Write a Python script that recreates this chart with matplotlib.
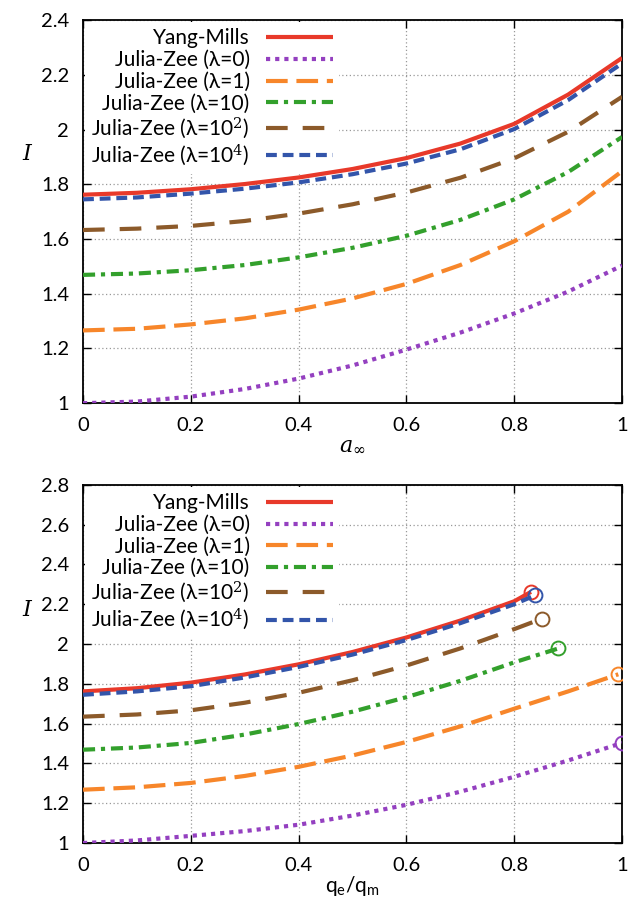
import matplotlib
matplotlib.use('Agg')
import matplotlib.pyplot as plt
from matplotlib.ticker import FuncFormatter

plt.rcParams['font.family'] = ['Lato', 'DejaVu Sans']
plt.rcParams['mathtext.fontset'] = 'dejavuserif'

# labels / styles of the six curves
labels = ['Yang-Mills', 'Julia-Zee (λ=0)', 'Julia-Zee (λ=1)', 'Julia-Zee (λ=10)',
          'Julia-Zee (λ=10$^2$)', 'Julia-Zee (λ=10$^4$)']
colors = ['#e8392a', '#9440c0', '#f7862a', '#33a02c', '#8c5a2a', '#3355aa']
dashes = [None, (1.0, 1.2), (5.2, 2.1), (2.9, 1.4, 1.0, 1.4), (5.2, 3.6), (2.6, 1.4)]

# top panel: I vs a_inf
a_inf = [0.0, 0.1, 0.2, 0.3, 0.4, 0.5, 0.6, 0.7, 0.8, 0.9, 1.0]
top_ym = [1.762, 1.769, 1.782, 1.801, 1.825, 1.856, 1.896, 1.949, 2.021, 2.128, 2.262]
top_jz0 = [1.000, 1.006, 1.024, 1.052, 1.090, 1.138, 1.196, 1.258, 1.328, 1.408, 1.503]
top_jz1 = [1.266, 1.272, 1.288, 1.310, 1.342, 1.383, 1.436, 1.505, 1.592, 1.700, 1.848]
top_jz10 = [1.469, 1.474, 1.486, 1.505, 1.533, 1.568, 1.612, 1.670, 1.745, 1.845, 1.973]
top_jz100 = [1.633, 1.638, 1.648, 1.666, 1.693, 1.727, 1.770, 1.824, 1.895, 1.992, 2.120]
top_jz1e4 = [1.745, 1.752, 1.766, 1.784, 1.807, 1.837, 1.876, 1.928, 2.002, 2.108, 2.242]

# bottom panel: I vs q_e/q_m (curves end at the circles)
q_ym = [0.0, 0.1, 0.2, 0.3, 0.4, 0.5, 0.6, 0.7, 0.8, 0.831]
bot_ym = [1.762, 1.778, 1.806, 1.847, 1.898, 1.960, 2.033, 2.118, 2.215, 2.262]
q_jz0 = [0.0, 0.1, 0.2, 0.3, 0.4, 0.5, 0.6, 0.7, 0.8, 0.9, 1.0]
bot_jz0 = [1.000, 1.013, 1.036, 1.060, 1.092, 1.138, 1.192, 1.258, 1.333, 1.415, 1.503]
q_jz1 = [0.0, 0.1, 0.2, 0.3, 0.4, 0.5, 0.6, 0.7, 0.8, 0.9, 0.993]
bot_jz1 = [1.268, 1.280, 1.302, 1.337, 1.383, 1.440, 1.508, 1.586, 1.675, 1.762, 1.848]
q_jz10 = [0.0, 0.1, 0.2, 0.3, 0.4, 0.5, 0.6, 0.7, 0.8, 0.882]
bot_jz10 = [1.469, 1.480, 1.503, 1.545, 1.598, 1.660, 1.733, 1.815, 1.908, 1.978]
q_jz100 = [0.0, 0.1, 0.2, 0.3, 0.4, 0.5, 0.6, 0.7, 0.8, 0.851]
bot_jz100 = [1.635, 1.646, 1.667, 1.705, 1.755, 1.818, 1.892, 1.978, 2.075, 2.127]
q_jz1e4 = [0.0, 0.1, 0.2, 0.3, 0.4, 0.5, 0.6, 0.7, 0.8, 0.839]
bot_jz1e4 = [1.745, 1.762, 1.788, 1.832, 1.885, 1.947, 2.020, 2.105, 2.200, 2.245]

top_series = [top_ym, top_jz0, top_jz1, top_jz10, top_jz100, top_jz1e4]
bot_x = [q_ym, q_jz0, q_jz1, q_jz10, q_jz100, q_jz1e4]
bot_series = [bot_ym, bot_jz0, bot_jz1, bot_jz10, bot_jz100, bot_jz1e4]

fig = plt.figure(figsize=(6.29, 9.0), dpi=100)
ax1 = fig.add_axes([0.132, 0.552, 0.857, 0.4256])
ax2 = fig.add_axes([0.132, 0.0633, 0.857, 0.398])

fmt = FuncFormatter(lambda v, p: '%g' % round(v, 3))


def style(ax, ymax):
    ax.set_xlim(0, 1)
    ax.set_ylim(1, ymax)
    ax.set_xticks([0, 0.2, 0.4, 0.6, 0.8, 1.0])
    ax.set_yticks([1 + 0.2 * i for i in range(int(round((ymax - 1) / 0.2)) + 1)])
    ax.xaxis.set_major_formatter(fmt)
    ax.yaxis.set_major_formatter(fmt)
    ax.tick_params(direction='in', top=True, right=True, length=6, width=1,
                   labelsize=14.5, pad=10)
    ax.grid(True, color='#999999', linestyle=(0, (1, 2)), linewidth=0.9)
    ax.set_axisbelow(True)
    for s in ax.spines.values():
        s.set_linewidth(1.3)


def curve(ax, x, y, i):
    ln, = ax.plot(x, y, color=colors[i], lw=3.0, label=labels[i], zorder=3,
                  solid_capstyle='butt', dash_capstyle='butt')
    if dashes[i] is not None:
        ln.set_dashes(dashes[i])
    return ln


for i in range(6):
    curve(ax1, a_inf, top_series[i], i)
for i in range(6):
    curve(ax2, bot_x[i], bot_series[i], i)
    ax2.plot(bot_x[i][-1], bot_series[i][-1], 'o', mfc='none', mec=colors[i],
             ms=10, mew=1.4, zorder=3)

style(ax1, 2.4)
style(ax2, 2.8)

for ax in (ax1, ax2):
    leg = ax.legend(loc='upper left', bbox_to_anchor=(0.0, 1.0), markerfirst=False,
                    fontsize=15, handlelength=3.2, handletextpad=0.8,
                    labelspacing=0.08, borderpad=0.3, borderaxespad=0.1,
                    frameon=True, fancybox=False, edgecolor='none',
                    facecolor='white', framealpha=1.0)
    leg.set_zorder(2)  # white box hides grid, but not the curves
    ax.text(-0.102, 0.65, '$I$', transform=ax.transAxes, fontsize=16,
            ha='center', va='center')

ax1.set_xlabel(r'$a_\infty$', fontsize=16, labelpad=0)
ax2.set_xlabel('q$_\\mathregular{e}$/q$_\\mathregular{m}$', fontsize=15, labelpad=0)

fig.savefig('out.png', dpi=100)
